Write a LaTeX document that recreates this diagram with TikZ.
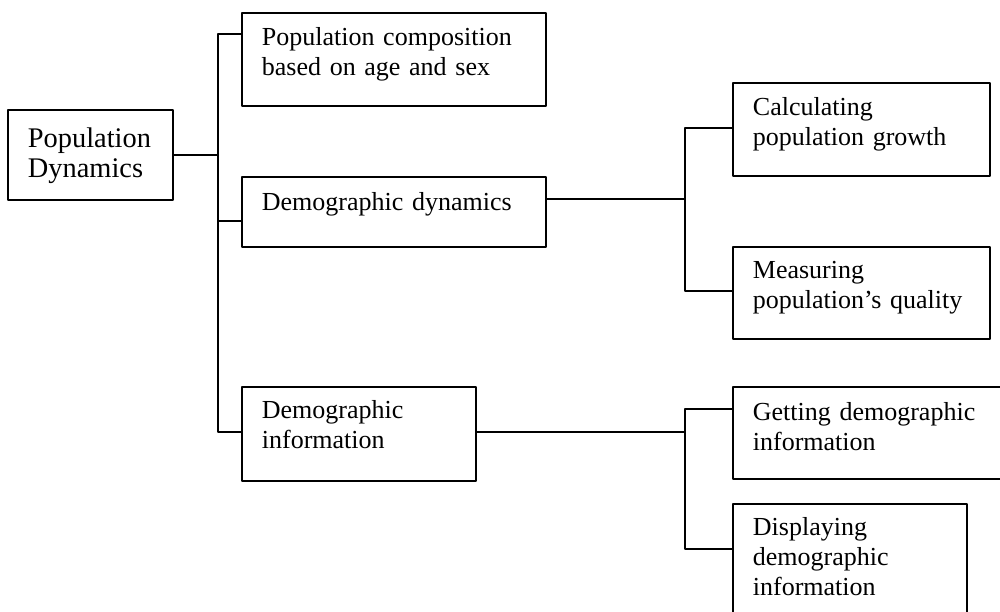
\documentclass[tikz,border=0pt]{standalone}
\usepackage{fontspec}
\setmainfont{Liberation Serif}

\begin{document}
\begin{tikzpicture}[line join=bevel,
  box/.style={draw, line width=1.8bp, anchor=north west, align=left,
    inner xsep=20bp, inner ysep=0bp, font=\fontsize{26bp}{30bp}\selectfont},
  link/.style={line width=1.5bp}]
  \pgfsetlinewidth{1bp}
  \useasboundingbox (0bp,0bp) rectangle (1000bp,612bp);
%%
  % Node: 0
  \node[box, text width=125bp, text height=38bp, text depth=52bp,
    font=\fontsize{28.4bp}{30bp}\selectfont] (n0) at (7bp,503bp) {Population\\Dynamics};
  % Node: 1
  \node[box, text width=264bp, text height=33bp, text depth=60bp] (n1) at (241bp,600bp) {Population composition\\based on age and sex};
  % Node: 2
  \node[box, text width=264bp, text height=34bp, text depth=36bp] (n2) at (241bp,436bp) {Demographic dynamics};
  % Node: 3
  \node[box, text width=194bp, text height=32bp, text depth=62bp] (n3) at (241bp,226bp) {Demographic\\information};
  % Node: 4
  \node[box, text width=217bp, text height=33bp, text depth=60bp] (n4) at (732bp,530bp) {Calculating\\population growth};
  % Node: 5
  \node[box, text width=217bp, text height=32bp, text depth=60bp] (n5) at (732bp,366bp) {Measuring\\population’s quality};
  % Node: 6
  \node[box, text width=235bp, text height=34bp, text depth=58bp] (n6) at (732bp,226bp) {Getting demographic\\information};
  % Node: 7
  \node[box, text width=194bp, text height=32bp, text depth=88bp] (n7) at (732bp,109bp) {Displaying\\demographic\\information};
%%
  % bus points
  \coordinate (s0) at (218bp,578bp);
  \coordinate (s1) at (218bp,391bp);
  \coordinate (s2) at (218bp,180bp);
  \coordinate (r2) at (685bp,413bp);
  \coordinate (s3) at (685bp,484bp);
  \coordinate (s4) at (685bp,321bp);
  \coordinate (s5) at (685bp,203bp);
  \coordinate (s6) at (685bp,63bp);
  % Edge: 0 -> 1, 2, 3
  \draw[link] (n0.east) -- (n0.east -| s0);
  \draw[link] (s0 -| n1.west) -- (s0) -- (s2) -- (s2 -| n3.west);
  \draw[link] (s1) -- (s1 -| n2.west);
  % Edge: 2 -> 4, 5
  \draw[link] (r2 -| n2.east) -- (r2);
  \draw[link] (s3 -| n4.west) -- (s3) -- (s4) -- (s4 -| n5.west);
  % Edge: 3 -> 6, 7
  \draw[link] (s2 -| n3.east) -- (s2 -| s5);
  \draw[link] (s5 -| n6.west) -- (s5) -- (s6) -- (s6 -| n7.west);
%
\end{tikzpicture}
\end{document}
